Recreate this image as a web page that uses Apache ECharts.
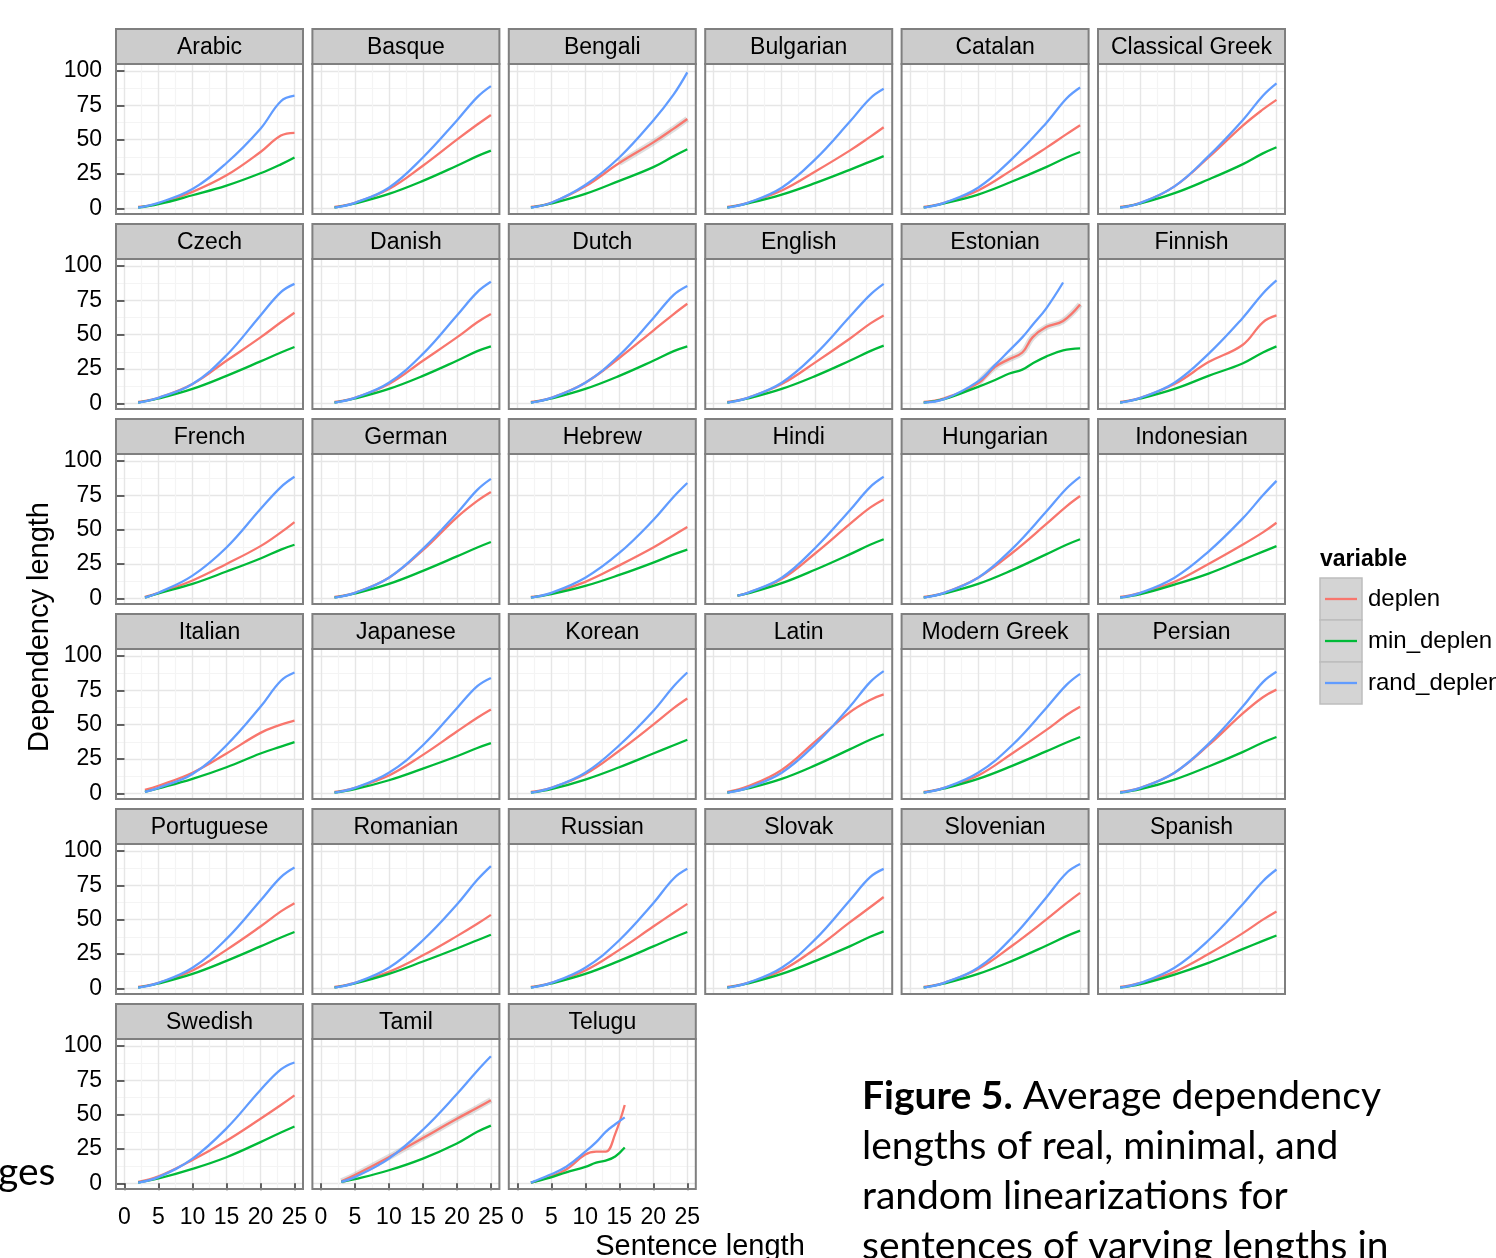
<!DOCTYPE html>
<html>
<head>
<meta charset="utf-8">
<script src="https://cdn.jsdelivr.net/npm/echarts@6/dist/echarts.min.js"></script>
<style>
  html, body { margin: 0; padding: 0; background: #fff; }
  #main { width: 1496px; height: 1258px; }
</style>
</head>
<body>
<div id="main"></div>
<script>
// facet order, 6 per row
const languages = [
  'Arabic', 'Basque', 'Bengali', 'Bulgarian', 'Catalan', 'Classical Greek',
  'Czech', 'Danish', 'Dutch', 'English', 'Estonian', 'Finnish',
  'French', 'German', 'Hebrew', 'Hindi', 'Hungarian', 'Indonesian',
  'Italian', 'Japanese', 'Korean', 'Latin', 'Modern Greek', 'Persian',
  'Portuguese', 'Romanian', 'Russian', 'Slovak', 'Slovenian', 'Spanish',
  'Swedish', 'Tamil', 'Telugu'
];
const variables = ['deplen', 'min_deplen', 'rand_deplen'];

// sentence lengths the curves are read at (first one replaced by startX if given)
const xs = [2, 5, 10, 15, 20, 23, 25];
const startX = { French: 3, Hindi: 3.5, Italian: 3, Tamil: 3 };
const customXs = {
  Estonian: [2, 5, 10, 12.5, 14.5, 16.5, 18, 20, 22.5, 25],
  Telugu: [2, 4.7, 7.2, 10, 11.6, 13, 14.4, 15.8]
};

const deplen = {
  'Arabic': [1, 3.5, 12, 24, 41, 53, 55],
  'Basque': [1, 4, 14, 31, 50, 61, 68],
  'Bengali': [1, 4, 16, 33, 48, 58, 65],
  'Bulgarian': [1, 4, 13, 27, 42, 52, 59],
  'Catalan': [1, 4, 13, 28, 44, 54, 60.5],
  'Classical Greek': [1, 4, 16, 37, 60, 72, 79],
  'Czech': [1, 4, 14, 31, 48, 59, 66],
  'Danish': [1, 4, 14, 31, 48, 59, 65],
  'Dutch': [1, 4, 15, 33, 53, 65, 72.5],
  'English': [1, 4, 14, 30, 47, 58, 64],
  'Estonian': [1, 3.6, 14.5, 26.5, 32, 37, 48, 55.5, 60, 72],
  'Finnish': [1, 4, 14, 30, 42.5, 59, 64],
  'French': [1, 4, 13, 25, 38, 48, 55.5],
  'German': [1, 4, 15, 35, 59, 71, 77.5],
  'Hebrew': [1, 3.5, 12, 24, 37, 46, 52],
  'Hindi': [2, 4, 14, 33, 54, 66, 72],
  'Hungarian': [1, 4, 15, 33, 54, 67, 74.5],
  'Indonesian': [1, 4, 12, 25, 39, 48, 55],
  'Italian': [2.5, 5.5, 15, 29, 44, 50, 53],
  'Japanese': [1, 4, 13, 28, 45, 55, 61],
  'Korean': [1, 4, 14, 31, 50, 62, 69],
  'Latin': [1, 5, 17, 38, 59, 68, 72],
  'Modern Greek': [1, 4, 13, 29, 46, 57, 63],
  'Persian': [1, 4, 15, 35, 58, 70, 75.5],
  'Portuguese': [1, 4, 13, 28, 45, 56, 62],
  'Romanian': [1, 4, 12, 24, 38, 47, 53.5],
  'Russian': [1, 4, 13, 28, 45, 55, 61.5],
  'Slovak': [1, 4, 13, 29, 48, 59, 66.5],
  'Slovenian': [1, 4, 14, 31, 50, 62, 69.5],
  'Spanish': [1, 4, 12, 25, 40, 50, 56],
  'Swedish': [1, 5, 17, 31, 47, 57, 64],
  'Tamil': [1.5, 6, 19, 33, 47, 55, 60.5],
  'Telugu': [0.5, 4.6, 10, 21, 23, 23, 36, 57]
};

const minDeplen = {
  'Arabic': [0.5, 3, 9.5, 16.5, 25.5, 32, 37],
  'Basque': [0.5, 3.5, 10.5, 20, 31, 38, 42],
  'Bengali': [0.5, 3.5, 10.5, 20, 30, 38, 43],
  'Bulgarian': [0.5, 3.5, 10, 18.5, 28, 34, 38],
  'Catalan': [0.5, 3.5, 10, 19.5, 30, 37, 41],
  'Classical Greek': [0.5, 3.5, 11, 21, 32, 40, 44.5],
  'Czech': [0.5, 3.5, 10.5, 20, 30.5, 37, 41],
  'Danish': [0.5, 3.5, 10.5, 20, 31, 38, 41.5],
  'Dutch': [0.5, 3.5, 10.5, 20, 31, 38, 41.5],
  'English': [0.5, 3.5, 10.5, 20, 31, 38, 42],
  'Estonian': [0.5, 3, 12, 17, 21.5, 24.5, 29, 34, 38.5, 40],
  'Finnish': [0.5, 3.5, 10.5, 20, 29, 37, 41.5],
  'French': [0.5, 3.5, 10.5, 19.5, 29, 35.5, 39],
  'German': [0.5, 3.5, 10.5, 20, 30.5, 37, 41],
  'Hebrew': [0.5, 3, 9, 17, 26, 32, 35.5],
  'Hindi': [2, 3.5, 11, 21, 32, 39, 43],
  'Hungarian': [0.5, 3.5, 10.5, 20.5, 32, 39, 43],
  'Indonesian': [0.5, 3, 10, 18, 28, 34, 38],
  'Italian': [1, 3.5, 10.5, 19, 29, 34, 37.3],
  'Japanese': [0.5, 3, 9.5, 18, 27, 33, 36.5],
  'Korean': [0.5, 3, 10, 19, 29, 35, 39],
  'Latin': [0.5, 3.5, 10.5, 20.5, 32, 39, 43],
  'Modern Greek': [0.5, 3.5, 10.5, 20, 30.5, 37, 41],
  'Persian': [0.5, 3, 10, 19.5, 30, 37, 41],
  'Portuguese': [0.5, 3.5, 10.5, 20, 30.5, 37, 41],
  'Romanian': [0.5, 3.5, 10.5, 19.5, 29, 35, 39],
  'Russian': [0.5, 3.5, 10.5, 20, 30.5, 37, 41],
  'Slovak': [0.5, 3.5, 10.5, 20, 30.5, 37.5, 41.5],
  'Slovenian': [0.5, 3.5, 10.5, 20, 31, 38, 42],
  'Spanish': [0.5, 3, 10, 18.5, 28.5, 34.5, 38.5],
  'Swedish': [0.5, 3.5, 10.5, 19, 30, 37, 41.4],
  'Tamil': [1, 3, 9.5, 18, 29, 37.5, 42],
  'Telugu': [0.5, 4, 8, 12, 15, 16.5, 19.5, 26]
};

const randDeplen = {
  'Arabic': [0.5, 4, 14, 33, 58, 78, 82],
  'Basque': [0.5, 4, 15, 37, 64, 81, 89],
  'Bengali': [0.5, 4, 17, 37, 64, 83, 99],
  'Bulgarian': [0.5, 4, 15, 36, 63, 80, 87],
  'Catalan': [0.5, 4, 15, 36, 62, 80, 88],
  'Classical Greek': [0.5, 4, 16, 38, 64, 82, 91],
  'Czech': [0.5, 4, 14, 35, 64, 81, 87],
  'Danish': [0.5, 4, 15, 36, 64, 81, 88.5],
  'Dutch': [0.5, 4, 15, 35, 62, 79, 85.5],
  'English': [0.5, 4, 15, 36, 63, 79, 87],
  'Estonian': [0.5, 3, 16, 28, 38, 48, 57, 69, 88, null],
  'Finnish': [0.5, 4, 15, 36, 62, 80, 89.5],
  'French': [0.5, 4, 16.5, 37, 65, 81, 88.5],
  'German': [0.5, 4, 15, 36, 62, 79, 87],
  'Hebrew': [0.5, 4, 15, 33, 57, 74, 84],
  'Hindi': [2, 4, 15, 37, 64, 81, 88.5],
  'Hungarian': [0.5, 4, 15, 36, 63, 80, 88.5],
  'Indonesian': [0.5, 4, 15, 34, 58, 75, 85.5],
  'Italian': [1, 4, 14, 35, 63, 82, 88],
  'Japanese': [0.5, 4, 15, 35, 62, 78, 84],
  'Korean': [0.5, 4, 15, 35, 60, 78, 88],
  'Latin': [0.5, 4, 15, 36, 63, 81, 89],
  'Modern Greek': [0.5, 4, 15, 35, 62, 79, 87],
  'Persian': [0.5, 4, 15, 36, 63, 81, 88.5],
  'Portuguese': [0.5, 4, 15, 36, 64, 81, 88],
  'Romanian': [0.5, 4, 15, 35, 61, 79, 89],
  'Russian': [0.5, 4, 15, 35, 62, 80, 87],
  'Slovak': [0.5, 4, 15, 36, 64, 81, 87],
  'Slovenian': [0.5, 4, 15, 37, 66, 84, 90.5],
  'Spanish': [0.5, 4, 15, 35, 61, 78, 86.5],
  'Swedish': [0.5, 4.5, 18, 40, 68, 83, 88],
  'Tamil': [1, 4.5, 18, 39, 65, 82, 92.5],
  'Telugu': [0.5, 6, 12, 23, 30, 37.5, 43, 48]
};

// grey confidence band on deplen, visible from this sentence length on
const bandFrom = { Bengali: 15, Estonian: 10, Tamil: 2 };

const xTicks = [0, 5, 10, 15, 20, 25];
const xMinor = [2.5, 7.5, 12.5, 17.5, 22.5];
const yTicks = [0, 25, 50, 75, 100];
const yMinor = [12.5, 37.5, 62.5, 87.5];

const colors = ['#F8766D', '#00BA38', '#619CFF'];
const font = 'Liberation Sans, Arial, Helvetica, sans-serif';

const chart = echarts.init(document.getElementById('main'));

const grids = [], xAxes = [], yAxes = [], series = [], graphics = [];
const panelW = 187, panelH = 150, stripH = 35;

languages.forEach(function (lang, i) {
  const col = i % 6, row = Math.floor(i / 6);
  const left = 116 + col * 196.4;
  const top = 64 + row * 195;
  const showX = row === 5;
  const showY = col === 0;

  grids.push({ left: left, top: top, width: panelW, height: panelH, show: true,
    backgroundColor: '#fff', borderWidth: 0 });

  // minor grid axes (kept on the opposite side, no ticks or labels)
  xAxes.push({ gridIndex: i, type: 'value', position: 'top', min: -1.25, max: 26.25,
    axisLine: { show: false }, axisTick: { show: false, customValues: xMinor },
    axisLabel: { show: false, customValues: xMinor },
    splitLine: { show: true, lineStyle: { color: '#F4F4F4', width: 1.2 } } });
  yAxes.push({ gridIndex: i, type: 'value', position: 'right', min: -4.15, max: 105.1,
    axisLine: { show: false }, axisTick: { show: false, customValues: yMinor },
    axisLabel: { show: false, customValues: yMinor },
    splitLine: { show: true, lineStyle: { color: '#F4F4F4', width: 1.2 } } });
  // major axes
  xAxes.push({ gridIndex: i, type: 'value', position: 'bottom', min: -1.25, max: 26.25,
    axisLine: { show: false },
    axisTick: { show: showX, customValues: xTicks, length: 7, lineStyle: { color: '#333', width: 1.5 } },
    axisLabel: { show: showX, customValues: xTicks, fontSize: 23, color: '#000', fontFamily: font, margin: 17 },
    splitLine: { show: true, lineStyle: { color: '#E6E6E6', width: 1.4 } } });
  yAxes.push({ gridIndex: i, type: 'value', position: 'left', min: -4.15, max: 105.1,
    axisLine: { show: false },
    axisTick: { show: showY, customValues: yTicks, length: 8, lineStyle: { color: '#333', width: 1.5 } },
    axisLabel: { show: showY, customValues: yTicks, fontSize: 23, color: '#000', fontFamily: font, margin: 14 },
    splitLine: { show: true, lineStyle: { color: '#E6E6E6', width: 1.4 } } });

  const px = customXs[lang] ? customXs[lang].slice() : xs.slice();
  if (startX[lang]) px[0] = startX[lang];
  const pairs = function (arr) {
    return arr.map(function (v, k) { return [px[k], v]; })
      .filter(function (d) { return d[1] !== null; });
  };

  if (bandFrom[lang] !== undefined) {
    series.push({ type: 'line', xAxisIndex: 2 * i + 1, yAxisIndex: 2 * i + 1,
      data: pairs(deplen[lang]).filter(function (d) { return d[0] >= bandFrom[lang]; }),
      smooth: 0.4, showSymbol: false, silent: true, z: 1,
      lineStyle: { color: 'rgba(150,150,150,0.3)', width: 6 } });
  }
  [deplen, minDeplen, randDeplen].forEach(function (src, k) {
    series.push({ name: variables[k], type: 'line', xAxisIndex: 2 * i + 1, yAxisIndex: 2 * i + 1,
      data: pairs(src[lang]), smooth: 0.4, showSymbol: false, z: 2,
      lineStyle: { color: colors[k], width: 2.3 } });
  });

  // strip + panel border
  graphics.push({ type: 'rect', shape: { x: left, y: top - stripH, width: panelW, height: stripH },
    style: { fill: '#CCCCCC', stroke: '#7F7F7F', lineWidth: 2 }, z: 10 });
  graphics.push({ type: 'text', x: left + panelW / 2, y: top - stripH / 2 + 1,
    style: { text: lang, fontSize: 23, fontFamily: font, fill: '#000', align: 'center', verticalAlign: 'middle' }, z: 11 });
  graphics.push({ type: 'rect', shape: { x: left, y: top, width: panelW, height: panelH },
    style: { fill: 'none', stroke: '#7F7F7F', lineWidth: 2 }, z: 10 });
});

// axis titles
graphics.push({ type: 'text', x: 40, y: 627, rotation: Math.PI / 2,
  style: { text: 'Dependency length', fontSize: 29, fontFamily: font, fill: '#000', align: 'center', verticalAlign: 'middle' }, z: 11 });
graphics.push({ type: 'text', x: 700, y: 1247,
  style: { text: 'Sentence length', fontSize: 29, fontFamily: font, fill: '#000', align: 'center', verticalAlign: 'middle' }, z: 11 });

// legend
graphics.push({ type: 'text', x: 1320, y: 560,
  style: { text: 'variable', fontSize: 23, fontWeight: 'bold', fontFamily: font, fill: '#000', verticalAlign: 'middle' }, z: 11 });
variables.forEach(function (v, k) {
  const y0 = 578 + k * 42;
  graphics.push({ type: 'rect', shape: { x: 1320, y: y0, width: 42, height: 42 },
    style: { fill: '#D4D4D4', stroke: '#BDBDBD', lineWidth: 1.5 }, z: 10 });
  graphics.push({ type: 'line', shape: { x1: 1325, y1: y0 + 21, x2: 1357, y2: y0 + 21 },
    style: { stroke: colors[k], lineWidth: 2.3 }, z: 11 });
  graphics.push({ type: 'text', x: 1368, y: y0 + 21,
    style: { text: v, fontSize: 24, fontFamily: font, fill: '#000', verticalAlign: 'middle' }, z: 11 });
});

// surrounding page text
const capFont = 'Lato, "Open Sans", sans-serif';
const captionLines = [
  '{b|Figure 5.} Average dependency',
  'lengths of real, minimal, and',
  'random linearizations for',
  'sentences of varying lengths in'
];
captionLines.forEach(function (t, k) {
  graphics.push({ type: 'text', x: 862, y: 1096 + k * 50,
    style: { text: t, fontSize: 39, fontFamily: capFont, fill: '#000', verticalAlign: 'middle',
      rich: { b: { fontSize: 39, fontWeight: 'bold', fontFamily: capFont, fill: '#000' } } }, z: 11 });
});
graphics.push({ type: 'text', x: -2, y: 1172,
  style: { text: 'ges', fontSize: 39, fontFamily: capFont, fill: '#000', verticalAlign: 'middle' }, z: 11 });

chart.setOption({
  animation: false,
  backgroundColor: '#fff',
  grid: grids,
  xAxis: xAxes,
  yAxis: yAxes,
  series: series,
  graphic: graphics
});
</script>
</body>
</html>
